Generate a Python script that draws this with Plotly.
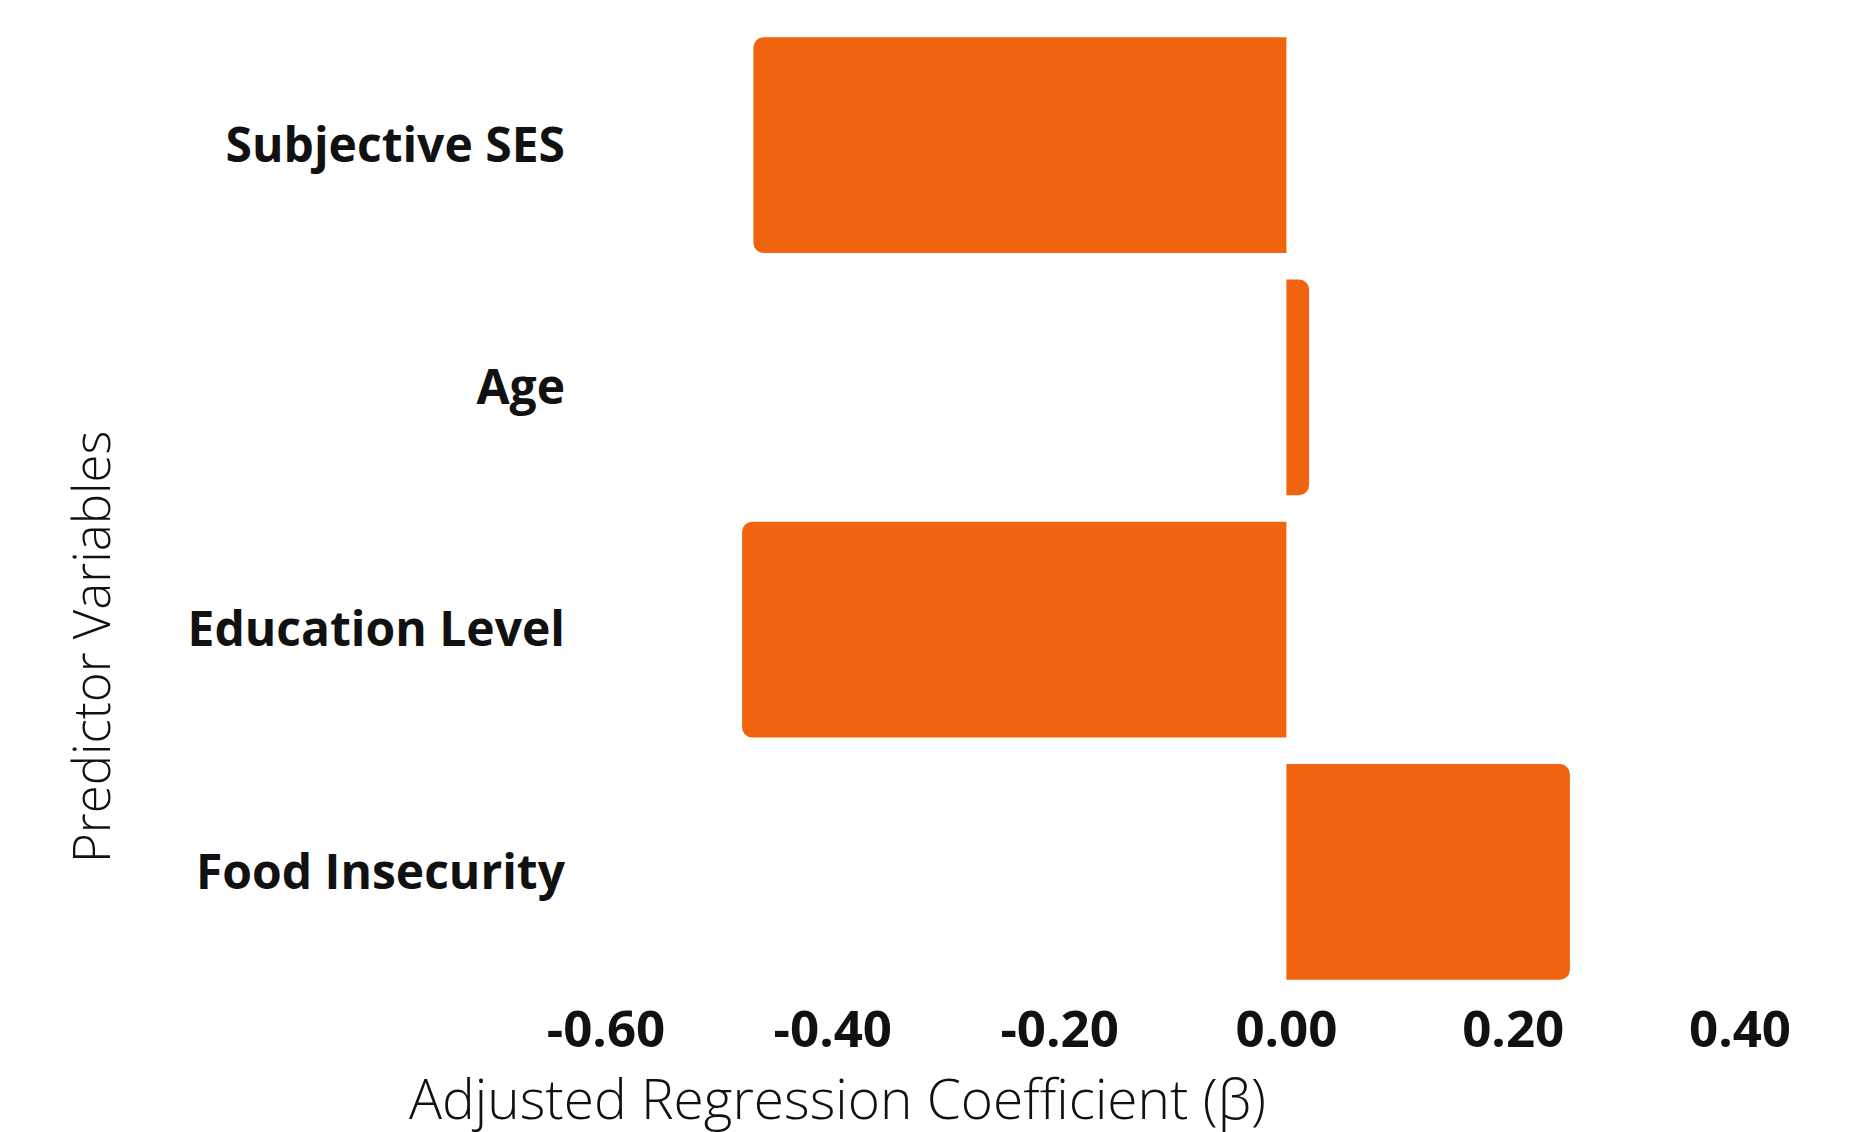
import plotly.graph_objects as go

categories = ["Subjective SES", "Age", "Education Level", "Food Insecurity"]
coefficients = [-0.47, 0.02, -0.48, 0.25]
tick_values = [-0.6, -0.4, -0.2, 0.0, 0.2, 0.4]
tick_labels = ["-0.60", "-0.40", "-0.20", "0.00", "0.20", "0.40"]

W, H = 1854, 1132
L, R, T, B = 598, 122, 16, 147

fig = go.Figure(
    go.Bar(
        x=coefficients,
        y=categories,
        orientation="h",
        width=0.89,
        marker=dict(color="#F0640F", cornerradius=10, line=dict(width=0)),
    )
)

fig.update_layout(
    width=W,
    height=H,
    margin=dict(l=L, r=R, t=T, b=B, autoexpand=False),
    plot_bgcolor="white",
    paper_bgcolor="white",
    showlegend=False,
    xaxis=dict(
        range=[-0.6, 0.4],
        tickvals=tick_values,
        ticktext=tick_labels,
        showgrid=False,
        zeroline=False,
        showline=False,
        ticks="",
        ticklabelstandoff=2,
        tickfont=dict(family="Open Sans", size=51, color="#111111", weight="bold"),
    ),
    yaxis=dict(
        categoryorder="array",
        categoryarray=categories[::-1],
        range=[-0.5, 3.5],
        showgrid=False,
        zeroline=False,
        showline=False,
        ticks="",
        ticklabelstandoff=40,
        tickfont=dict(family="Open Sans", size=48, color="#111111", weight="bold"),
    ),
    annotations=[
        dict(
            text="Adjusted Regression Coefficient (β)",
            xref="paper", yref="paper",
            x=(829 - L) / (W - L - R), y=(T + (H - T - B) - 1089) / (H - T - B),
            xanchor="center", yanchor="middle",
            showarrow=False, borderpad=0,
            font=dict(family="Open Sans", size=55, color="#111111", weight=300),
        ),
        dict(
            text="Predictor Variables",
            xref="paper", yref="paper",
            x=(82 - L) / (W - L - R), y=(T + (H - T - B) - 639) / (H - T - B),
            xanchor="center", yanchor="middle",
            textangle=-90,
            showarrow=False,
            font=dict(family="Open Sans", size=51, color="#111111", weight=300),
        ),
    ],
)

fig.write_html("out.html")
